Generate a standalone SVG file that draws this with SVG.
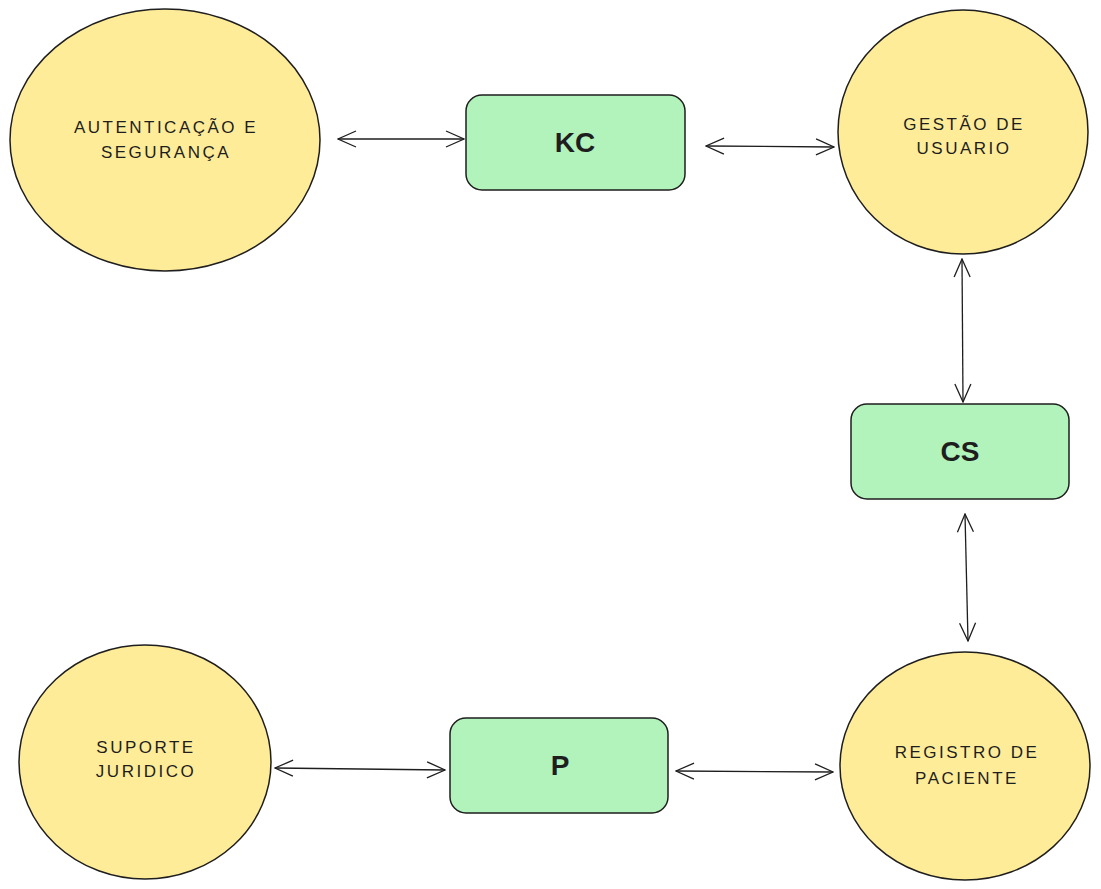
<svg xmlns="http://www.w3.org/2000/svg" width="1101" height="889" viewBox="0 0 1101 889">
<style>
.ell{fill:#ffec99;stroke:#1e1e1e;stroke-width:1.5}
.box{fill:#b2f2bb;stroke:#1e1e1e;stroke-width:1.5}
.lbl{font-family:"Liberation Sans","DejaVu Sans",sans-serif;font-size:17px;fill:#1e1e1e;text-anchor:middle;letter-spacing:2.5px}
.big{font-family:"Liberation Sans","DejaVu Sans",sans-serif;font-size:28px;font-weight:bold;fill:#1e1e1e;text-anchor:middle}
.con{fill:none;stroke:#1e1e1e;stroke-width:1.3}
</style>
<defs>
<marker id="ah" viewBox="0 0 20 20" refX="19" refY="10" markerWidth="20" markerHeight="20" markerUnits="userSpaceOnUse" orient="auto-start-reverse">
<path d="M1,2 L19,10 L1,18" fill="none" stroke="#1e1e1e" stroke-width="1.3"/>
</marker>
</defs>
<rect width="1101" height="889" fill="#ffffff"/>
<g id="connectors">
<line class="con" x1="338" y1="139" x2="464" y2="139" marker-start="url(#ah)" marker-end="url(#ah)"/>
<line class="con" x1="706" y1="146" x2="834" y2="147" marker-start="url(#ah)" marker-end="url(#ah)"/>
<line class="con" x1="962" y1="259" x2="963" y2="402" marker-start="url(#ah)" marker-end="url(#ah)"/>
<line class="con" x1="965" y1="514" x2="968" y2="641" marker-start="url(#ah)" marker-end="url(#ah)"/>
<line class="con" x1="275" y1="768" x2="445" y2="770" marker-start="url(#ah)" marker-end="url(#ah)"/>
<line class="con" x1="676" y1="771" x2="833" y2="772" marker-start="url(#ah)" marker-end="url(#ah)"/>
</g>
<g id="autenticacao">
<ellipse class="ell" cx="165" cy="140" rx="155" ry="131"/>
<text class="lbl" x="166" y="133">AUTENTICAÇÃO E</text>
<text class="lbl" x="166" y="158">SEGURANÇA</text>
</g>
<g id="kc">
<rect class="box" x="466" y="95" width="219" height="95" rx="16"/>
<text class="big" x="575" y="152">KC</text>
</g>
<g id="gestao">
<ellipse class="ell" cx="963" cy="132" rx="125" ry="122"/>
<text class="lbl" x="964" y="130">GESTÃO DE</text>
<text class="lbl" x="964" y="154">USUARIO</text>
</g>
<g id="cs">
<rect class="box" x="851" y="404" width="218" height="95" rx="16"/>
<text class="big" x="960" y="461">CS</text>
</g>
<g id="registro">
<ellipse class="ell" cx="965" cy="766" rx="125" ry="114"/>
<text class="lbl" x="967" y="758">REGISTRO DE</text>
<text class="lbl" x="967" y="784">PACIENTE</text>
</g>
<g id="p">
<rect class="box" x="450" y="718" width="218" height="95" rx="16"/>
<text class="big" x="560" y="775">P</text>
</g>
<g id="suporte">
<ellipse class="ell" cx="145" cy="762" rx="126" ry="117"/>
<text class="lbl" x="146" y="753">SUPORTE</text>
<text class="lbl" x="146" y="777">JURIDICO</text>
</g>
</svg>
